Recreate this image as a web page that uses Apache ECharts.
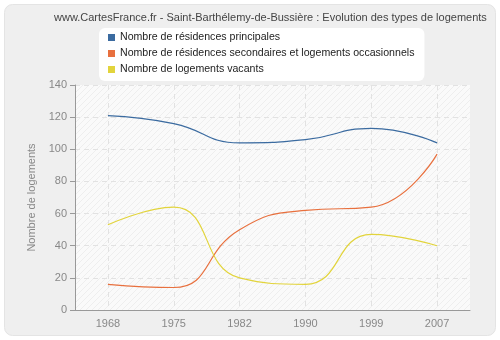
<!DOCTYPE html>
<html>
<head>
<meta charset="utf-8">
<script src="https://cdn.jsdelivr.net/npm/echarts@6/dist/echarts.min.js"></script>
<style>
html, body { margin: 0; padding: 0; background: #ffffff; }
#chart { width: 500px; height: 340px; }
</style>
</head>
<body>
<div id="chart"></div>
<script>
// Census years and housing counts
const years = ['1968', '1975', '1982', '1990', '1999', '2007'];
const principales = [121, 116, 104, 106, 113, 104];
const secondaires = [16, 14, 50, 62, 64, 97];
const vacants = [53, 64, 20, 16, 47, 40];
const seriesNames = [
  'Nombre de résidences principales',
  'Nombre de résidences secondaires et logements occasionnels',
  'Nombre de logements vacants'
];
const seriesColors = ['#3b6ba0', '#e8703e', '#e2d43c'];

// Diagonal hatch used to fill the plot area
function hatch() {
  const c = document.createElement('canvas');
  c.width = 6; c.height = 6;
  const g = c.getContext('2d');
  g.fillStyle = '#fafafa';
  g.fillRect(0, 0, 6, 6);
  g.strokeStyle = '#eeeeee';
  g.lineWidth = 1;
  g.beginPath();
  g.moveTo(0, 6); g.lineTo(6, 0);
  g.moveTo(-3, 3); g.lineTo(3, -3);
  g.moveTo(3, 9); g.lineTo(9, 3);
  g.stroke();
  return c;
}

const chart = echarts.init(document.getElementById('chart'), null, { renderer: 'canvas' });
const font = 'Liberation Sans, Arial, sans-serif';

chart.setOption({
  animation: false,
  backgroundColor: '#ffffff',
  graphic: [{
    type: 'rect',
    z: -10,
    shape: { x: 4.5, y: 4.5, width: 491, height: 331, r: 8 },
    style: { fill: '#efefef', stroke: '#e4e4e4', lineWidth: 1 }
  }],
  title: {
    text: 'www.CartesFrance.fr - Saint-Barthélemy-de-Bussière : Evolution des types de logements',
    left: 54,
    top: 12,
    padding: 0,
    textStyle: { fontFamily: font, fontSize: 11, fontWeight: 'normal', color: '#444444' }
  },
  legend: {
    orient: 'vertical',
    left: 99,
    top: 28,
    backgroundColor: '#ffffff',
    borderRadius: 6,
    padding: [4, 10, 6, 9],
    itemGap: 5,
    itemWidth: 7,
    itemHeight: 7,
    icon: 'rect',
    textStyle: { fontFamily: font, fontSize: 10.6, color: '#222222', padding: [0, 0, 0, 0] },
    data: seriesNames
  },
  grid: {
    left: 75, right: 30, top: 85, bottom: 30,
    show: true,
    backgroundColor: { image: hatch(), repeat: 'repeat' },
    borderWidth: 0
  },
  xAxis: {
    type: 'category',
    data: years,
    boundaryGap: true,
    axisLine: { lineStyle: { color: '#999999' } },
    axisTick: { alignWithLabel: true, length: 5, lineStyle: { color: '#999999' } },
    axisLabel: { fontFamily: font, fontSize: 11, color: '#888888', margin: 8 },
    splitLine: { show: true, alignWithLabel: true, lineStyle: { color: '#e2e2e2', type: [5, 4] } }
  },
  yAxis: {
    type: 'value',
    min: 0, max: 140, interval: 20,
    name: 'Nombre de logements',
    nameLocation: 'middle',
    nameGap: 33,
    nameTextStyle: { fontFamily: font, fontSize: 11, color: '#888888' },
    axisLine: { show: true, lineStyle: { color: '#999999' } },
    axisTick: { show: true, length: 5, lineStyle: { color: '#999999' } },
    axisLabel: { fontFamily: font, fontSize: 11, color: '#888888', margin: 8 },
    splitLine: { show: true, lineStyle: { color: '#e2e2e2', type: [5, 4] } }
  },
  series: [principales, secondaires, vacants].map((d, i) => ({
    name: seriesNames[i],
    type: 'line',
    data: d,
    smooth: 0.5,
    showSymbol: false,
    symbol: 'none',
    color: seriesColors[i],
    lineStyle: { width: 1.2, color: seriesColors[i] }
  }))
});
</script>
</body>
</html>
